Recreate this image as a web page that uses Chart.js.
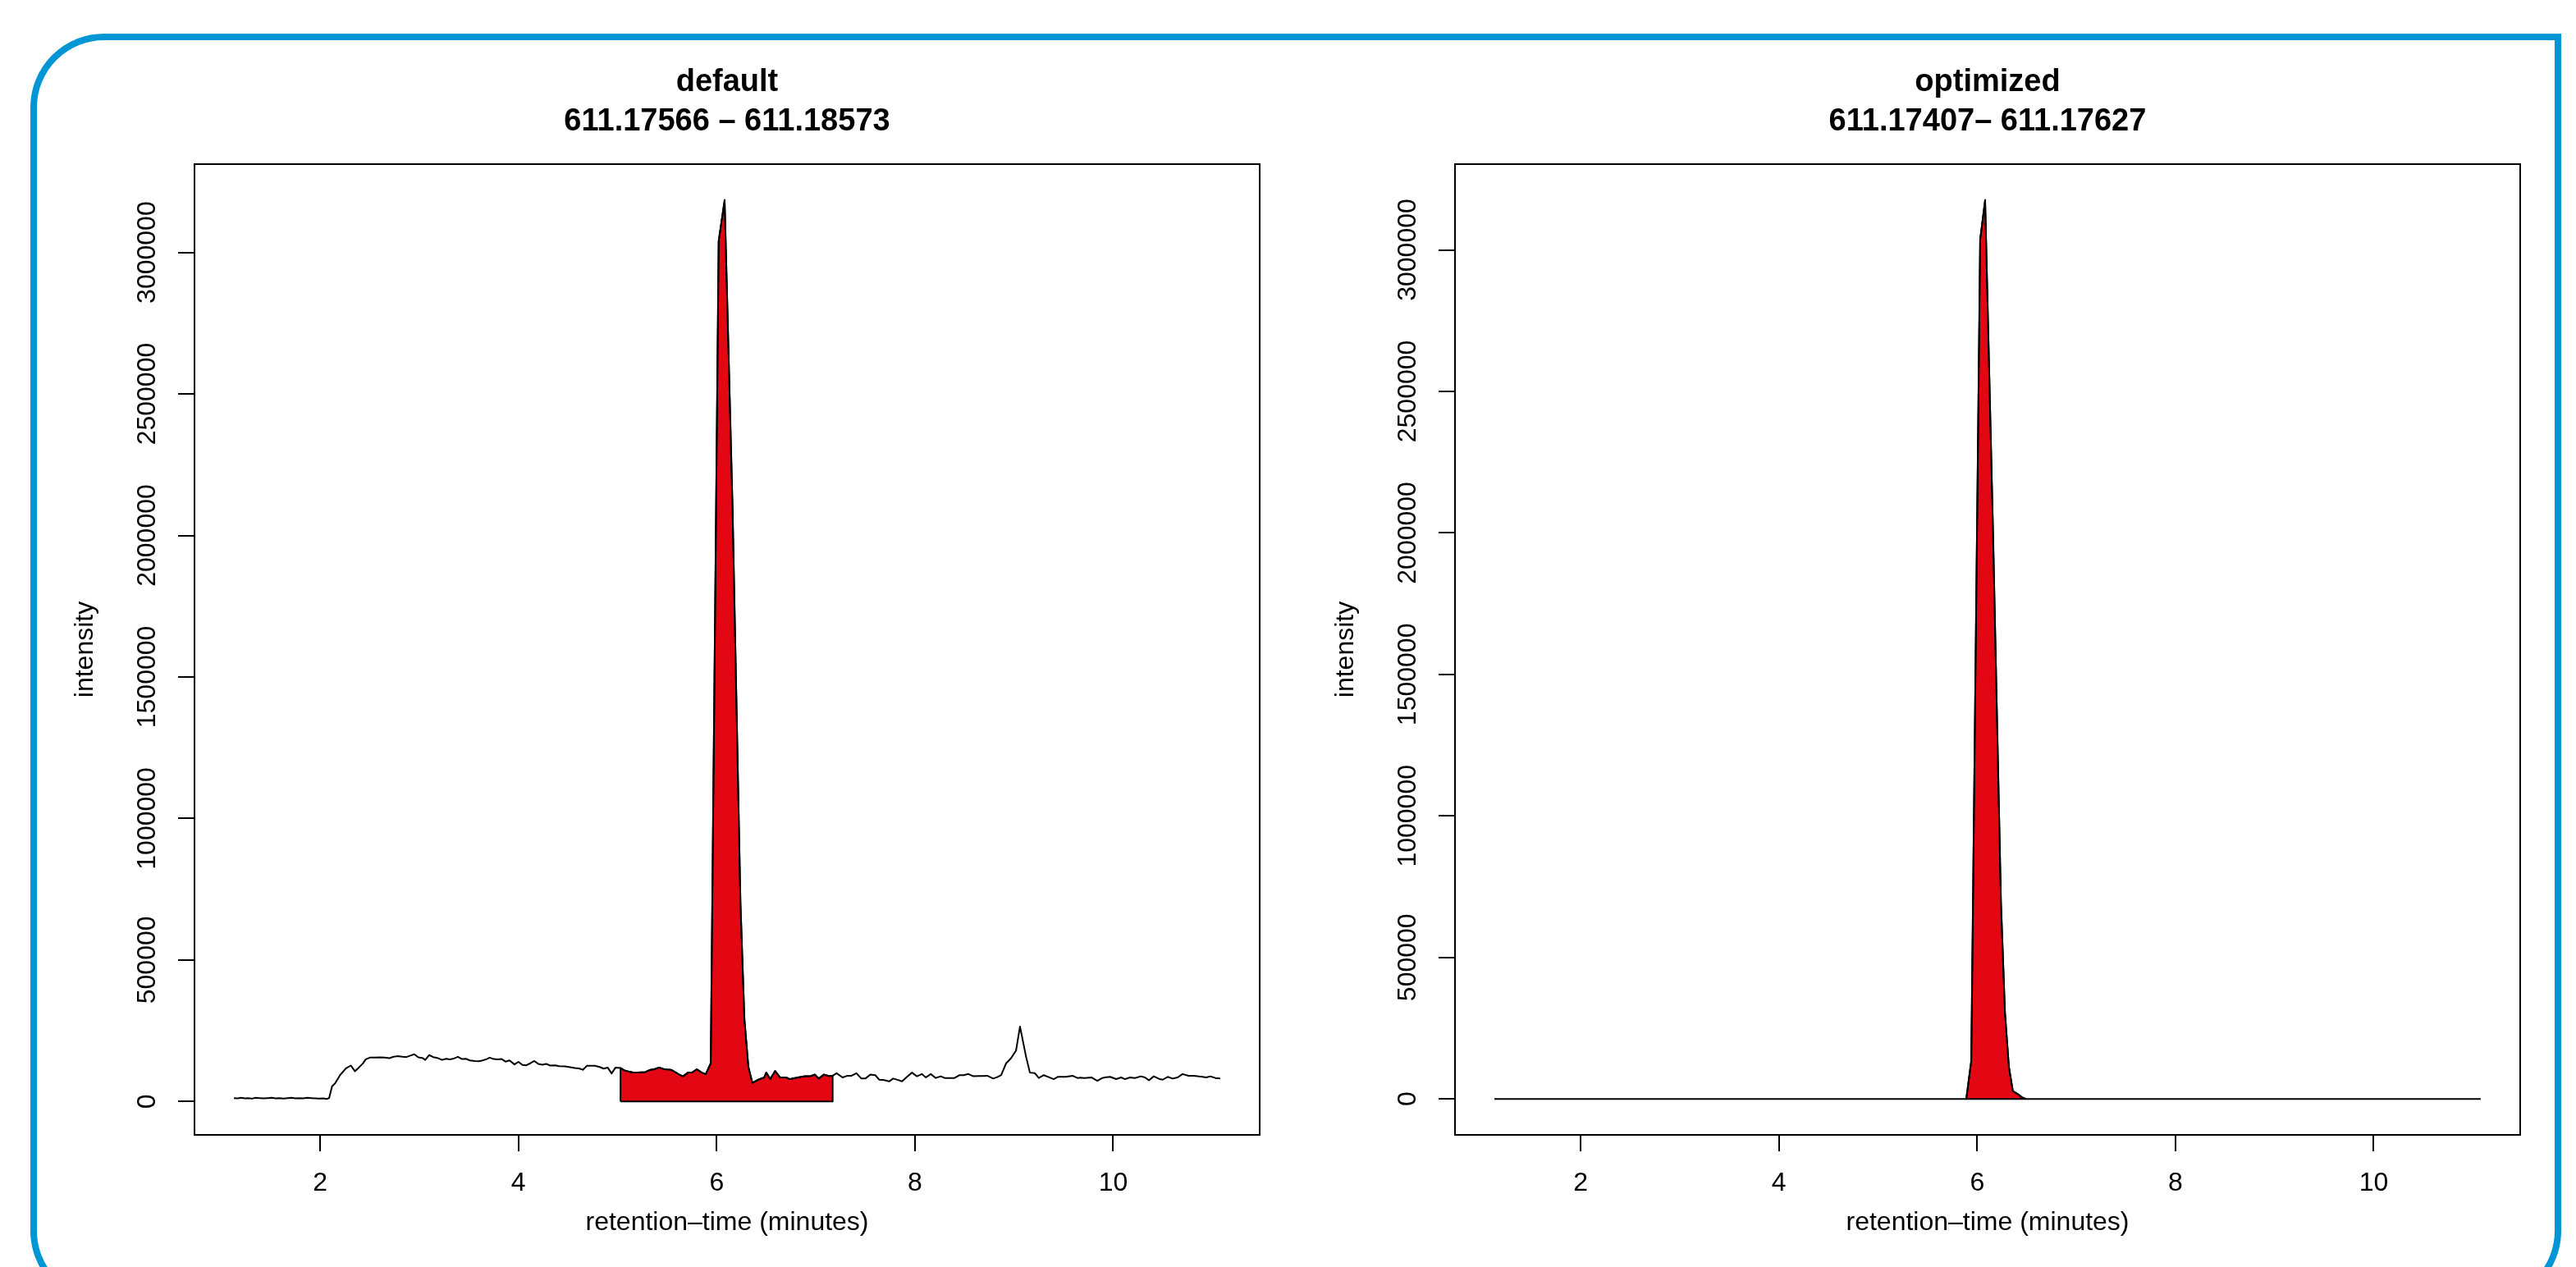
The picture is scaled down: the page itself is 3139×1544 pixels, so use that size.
<!DOCTYPE html>
<html><head><meta charset="utf-8">
<script src="https://cdn.jsdelivr.net/npm/chart.js@4/dist/chart.umd.min.js"></script>
<style>
html,body{margin:0;padding:0;background:#fff;width:3139px;height:1544px;overflow:hidden;}
#frame{position:absolute;left:37px;top:41px;width:3084px;height:1549px;box-sizing:border-box;border:8px solid #0096D6;border-radius:90px 0 90px 90px;}
#c1{position:absolute;left:0;top:0;}
#c2{position:absolute;left:1570px;top:0;}
</style></head><body>
<div id="frame"></div>
<canvas id="c1" width="1570" height="1544"></canvas>
<canvas id="c2" width="1569" height="1544"></canvas>
<script>
// ---------- data ----------
const defaultTitle = ['default', '611.17566 \u2013 611.18573'];
const optimizedTitle = ['optimized', '611.17407\u2013 611.17627'];
const xAxisTitle = 'retention\u2013time (minutes)';
const yAxisTitle = 'intensity';

const xTickValues = [2, 4, 6, 8, 10];
const xTickLabels = ['2', '4', '6', '8', '10'];
const yTickValues = [0, 500000, 1000000, 1500000, 2000000, 2500000, 3000000];
const yTickLabels = ['0', '500000', '1000000', '1500000', '2000000', '2500000', '3000000'];

const defaultTimes = [
 1.13,1.17,1.20,1.24,1.27,1.31,1.35,1.39,1.43,1.47,
 1.51,1.55,1.59,1.63,1.67,1.71,1.75,1.79,1.83,1.87,
 1.91,1.95,1.99,2.03,2.07,2.09,2.12,2.15,2.20,2.26,
 2.31,2.35,2.39,2.43,2.46,2.50,2.55,2.60,2.65,2.70,
 2.74,2.78,2.83,2.87,2.91,2.95,2.99,3.03,3.06,3.10,
 3.14,3.18,3.23,3.27,3.31,3.35,3.39,3.43,3.47,3.51,
 3.56,3.60,3.64,3.68,3.71,3.75,3.79,3.83,3.87,3.91,
 3.96,4.00,4.04,4.08,4.12,4.16,4.20,4.24,4.28,4.32,
 4.37,4.41,4.47,4.52,4.57,4.61,4.65,4.69,4.73,4.77,
 4.82,4.86,4.90,4.94,4.98,5.03,5.07,5.11,5.15,5.19,
 5.23,5.28,5.33,5.37,5.42,5.47,5.50,5.54,5.59,5.62,
 5.66,5.71,5.75,5.80,5.85,5.89,5.94,6.02,6.08,6.16,
 6.24,6.28,6.32,6.36,6.42,6.48,6.50,6.54,6.59,6.64,
 6.70,6.74,6.82,6.89,6.94,6.99,7.03,7.08,7.13,7.17,
 7.21,7.27,7.32,7.36,7.41,7.46,7.50,7.55,7.60,7.64,
 7.68,7.74,7.78,7.83,7.87,7.92,7.97,8.02,8.07,8.11,
 8.16,8.21,8.26,8.30,8.35,8.40,8.45,8.49,8.54,8.59,
 8.64,8.68,8.73,8.79,8.83,8.87,8.92,8.97,9.02,9.06,
 9.12,9.16,9.21,9.25,9.30,9.35,9.40,9.44,9.48,9.52,
 9.59,9.64,9.67,9.71,9.78,9.84,9.89,9.93,9.97,10.03,
 10.08,10.12,10.17,10.22,10.28,10.32,10.36,10.41,10.47,10.50,
 10.55,10.60,10.65,10.70,10.76,10.81,10.85,10.90,10.94,10.98,
 11.03,11.08
];
const defaultIntensity = [
 12000,11000,13000,11000,12000,10000,13000,12000,11000,12000,
 13000,11000,12000,10000,12000,13000,11000,12000,11000,13000,
 12000,11000,10000,11000,9000,12000,54000,64000,93000,117000,
 127000,107000,120000,134000,149000,155000,155000,156000,155000,153000,
 158000,160000,158000,157000,162000,167000,156000,154000,147000,164000,
 157000,154000,147000,151000,149000,152000,158000,150000,151000,145000,
 143000,142000,145000,150000,155000,150000,149000,150000,141000,145000,
 131000,140000,129000,128000,135000,143000,133000,130000,133000,127000,
 128000,125000,124000,121000,118000,117000,112000,126000,126000,126000,
 122000,116000,120000,99000,120000,118000,110000,106000,103000,102000,
 103000,104000,112000,114000,120000,114000,113000,112000,102000,95000,
 89000,102000,102000,114000,102000,97000,135000,3040000,3185000,2100000,
 700000,290000,122000,66000,77000,85000,102000,79000,108000,85000,
 85000,79000,85000,89000,89000,95000,81000,95000,90000,91000,
 100000,85000,91000,91000,100000,81000,81000,95000,93000,77000,
 76000,71000,81000,76000,71000,87000,102000,89000,97000,85000,
 97000,83000,89000,83000,83000,83000,93000,93000,97000,89000,
 90000,90000,91000,81000,86000,93000,135000,153000,180000,265000,
 160000,102000,100000,83000,93000,86000,79000,87000,87000,87000,
 91000,83000,84000,83000,85000,73000,83000,86000,87000,79000,
 85000,79000,85000,83000,89000,85000,75000,89000,79000,77000,
 87000,81000,85000,97000,91000,91000,89000,87000,85000,89000,
 83000,81000
];
const defaultWindow = [5.03, 7.17];

const optimizedTimes = [1.13, 5.89, 5.94, 6.03, 6.08, 6.16, 6.24, 6.28, 6.32, 6.36, 6.41, 6.45, 6.49, 11.08];
const optimizedIntensity = [0, 0, 134000, 3036000, 3176000, 2000000, 693000, 307000, 113000, 28000, 17000, 6000, 0, 0];
const optimizedWindow = [5.89, 6.49];

// ---------- rendering ----------
const FONT = "'Liberation Sans', Arial, Helvetica, sans-serif";
const AX = 32;      // axis text size
const TT = 38;      // main title size
Chart.defaults.font.family = FONT;
Chart.defaults.color = '#000';

function measure(text, font) {
  const c = document.createElement('canvas').getContext('2d');
  c.font = font; return c.measureText(text).width;
}
const widestY = Math.max(...yTickLabels.map(l => measure(l, 'normal ' + AX + 'px ' + FONT)));

function toPoints(ts, vs) { return ts.map((t, i) => ({x: t, y: vs[i]})); }
function windowPolygon(ts, vs, win) {
  const inside = toPoints(ts, vs).filter(p => p.x >= win[0] && p.x <= win[1]);
  return [{x: win[0], y: 0}, ...inside, {x: win[1], y: 0}];
}

const boxPlugin = {
  id: 'rbox',
  afterDraw(chart, args, o) {
    const {ctx, chartArea: a} = chart;
    ctx.save();
    ctx.strokeStyle = '#000'; ctx.lineWidth = 2;
    ctx.strokeRect(a.left, a.top, a.right - a.left, a.bottom - a.top);
    ctx.fillStyle = '#000';
    ctx.font = 'bold ' + TT + 'px ' + FONT;
    ctx.textAlign = 'center'; ctx.textBaseline = 'alphabetic';
    const cx = (a.left + a.right) / 2;
    ctx.fillText(o.lines[0], cx, 111);
    ctx.fillText(o.lines[1], cx, 159);
    ctx.restore();
  }
};

function makePanel(canvas, cfg) {
  const grid = {display: true, drawOnChartArea: false, drawTicks: true, tickLength: 20, tickWidth: 2, tickColor: '#000', color: '#000', lineWidth: 2};
  return new Chart(canvas, {
    type: 'line',
    data: {
      datasets: [
        {data: toPoints(cfg.times, cfg.values), borderColor: '#000', borderWidth: 2, pointRadius: 0, fill: false, tension: 0, order: 0, borderJoinStyle: 'round'},
        {data: [{x: cfg.win[0], y: 0}, {x: cfg.win[1], y: 0}], borderColor: '#000', borderWidth: 2, pointRadius: 0, fill: false, tension: 0, order: 1},
        {data: windowPolygon(cfg.times, cfg.values, cfg.win), borderColor: '#000', backgroundColor: '#E30613', borderWidth: 2, pointRadius: 0, fill: 'origin', tension: 0, order: 2, borderJoinStyle: 'round'}
      ]
    },
    options: {
      responsive: false, animation: false, devicePixelRatio: 1, events: [],
      layout: {padding: {left: 0, top: 200, right: cfg.padRight, bottom: 0}},
      plugins: {legend: {display: false}, tooltip: {enabled: false}, title: {display: false}, rbox: {lines: cfg.title}},
      scales: {
        x: {
          type: 'linear', position: 'bottom', min: cfg.xMin, max: cfg.xMax,
          afterBuildTicks: s => { s.ticks = xTickValues.map(v => ({value: v})); },
          afterFit: s => { s.height = 161; },
          grid: grid, border: {display: false},
          ticks: {font: {size: AX}, padding: 20, color: '#000', maxRotation: 0, autoSkip: false, callback: (v, i) => xTickLabels[i]},
          title: {display: true, text: xAxisTitle, font: {size: AX}, color: '#000', padding: {top: 0, bottom: 35}}
        },
        y: {
          type: 'linear', position: 'left', min: cfg.yMin, max: cfg.yMax,
          afterBuildTicks: s => { s.ticks = yTickValues.map(v => ({value: v})); },
          afterFit: s => { s.width = cfg.yAxisWidth; },
          grid: grid, border: {display: false},
          ticks: {font: {size: AX}, padding: 37 - widestY / 2, color: '#000', minRotation: 90, maxRotation: 90, crossAlign: 'center', autoSkip: false, callback: (v, i) => yTickLabels[i]},
          title: {display: true, text: yAxisTitle, font: {size: AX}, color: '#000', padding: {top: cfg.yTitlePad, bottom: 0}}
        }
      }
    },
    plugins: [boxPlugin]
  });
}

makePanel(document.getElementById('c1'), {
  times: defaultTimes, values: defaultIntensity, win: defaultWindow, title: defaultTitle,
  xMin: 0.732, xMax: 11.478, yMin: -118000, yMax: 3312000,
  yAxisWidth: 237, padRight: 35, yTitlePad: 85
});
makePanel(document.getElementById('c2'), {
  times: optimizedTimes, values: optimizedIntensity, win: optimizedWindow, title: optimizedTitle,
  xMin: 0.732, xMax: 11.478, yMin: -127000, yMax: 3303000,
  yAxisWidth: 203, padRight: 68, yTitlePad: 51
});
</script></body></html>
